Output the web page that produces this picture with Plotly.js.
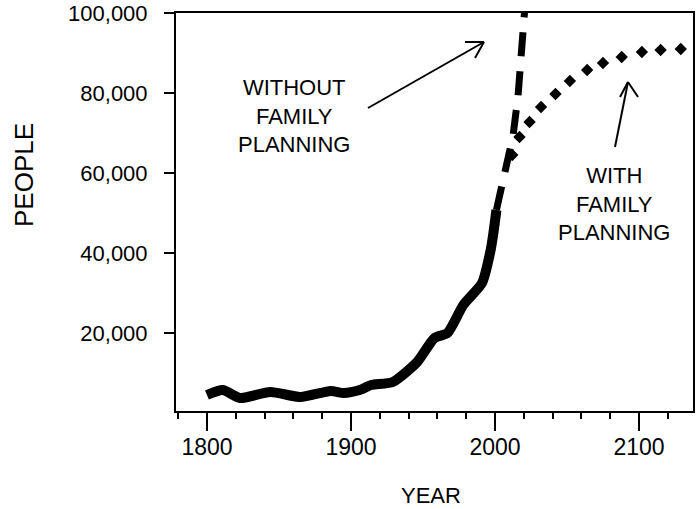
<!DOCTYPE html>
<html><head><meta charset="utf-8">
<script src="https://cdn.plot.ly/plotly-3.0.1.min.js"></script>
<style>html,body{margin:0;padding:0;background:#fff}#chart{width:699px;height:509px}</style>
</head><body><div id="chart"></div>
<script>
// Historical population (solid)
const pastYears  = [1800,1811,1823,1844,1865,1886,1895,1906,1914,1929,1946,1958,1967,1978,1991,1997,1999,2001];
const pastPeople = [4500,5750,3750,5250,4000,5500,5000,5750,7000,7750,12750,18750,20000,27000,32500,40750,45250,50750];
// Projection without family planning (dashed)
const withoutYears  = [2001,2006,2012.5,2016,2018,2020,2021];
const withoutPeople = [50750,59500,69250,79250,89500,99500,102500];
// Projection with family planning (diamonds)
const withYears  = [2012,2017,2024,2032,2042,2052,2064,2075,2088,2102,2115,2129];
const withPeople = [64500,69000,72750,76500,79750,83000,85750,87500,89000,90250,90750,91000];
// Axis ticks
const yTicks = [20000,40000,60000,80000,100000];
const xTicks = [1800,1900,2000,2100];
const labelWithout = "WITHOUT<br>FAMILY<br>PLANNING";
const labelWith = "WITH<br>FAMILY<br>PLANNING";

const FONT = '"Liberation Sans", Arial, Helvetica, sans-serif';
const L = 176, R = 693, T = 13, B = 411;
const P = (px, py) => [(px - L) / (R - L), (B - py) / (B - T)];
function seg(a, b) {
  const p = P(a[0], a[1]), q = P(b[0], b[1]);
  return {type:'line', xref:'paper', yref:'paper', x0:p[0], y0:p[1], x1:q[0], y1:q[1],
          line:{color:'#000', width:2}};
}
const shapes = [
  seg([368,108],[484,42]), seg([484,42],[465,42]), seg([484,42],[475,58]),
  seg([615,147],[628,82]), seg([628,82],[620,97]), seg([628,82],[638,97])
];
function ann(text, px, py, size, angle) {
  const p = P(px, py);
  return {text:text, xref:'paper', yref:'paper', x:p[0], y:p[1], xanchor:'center', yanchor:'middle',
          showarrow:false, align:'center', textangle:angle||0, font:{family:FONT, size:size, color:'#000'}};
}

const traces = [
  {x:pastYears, y:pastPeople, mode:'lines', line:{color:'#000', width:10, shape:'spline', smoothing:0.6}, hoverinfo:'skip'},
  {x:withoutYears, y:withoutPeople, mode:'lines', line:{color:'#000', width:7, dash:'24px,15px'}, hoverinfo:'skip'},
  {x:withYears, y:withPeople, mode:'markers', marker:{symbol:'diamond', size:9.5, color:'#000'}, hoverinfo:'skip'}
];

const layout = {
  width:699, height:509,
  margin:{l:L, r:699-R, t:T, b:509-B},
  paper_bgcolor:'#fff', plot_bgcolor:'#fff',
  showlegend:false,
  font:{family:FONT, color:'#000'},
  xaxis:{
    range:[1778.5, 2137.5], tickvals:xTicks, ticktext:xTicks.map(String),
    ticks:'outside', ticklen:18, tickwidth:2, tickcolor:'#000',
    minor:{dtick:20, tick0:1800, ticks:'outside', ticklen:6, tickwidth:2, tickcolor:'#000'},
    showgrid:false, zeroline:false, showline:true, mirror:true, linewidth:2, linecolor:'#000',
    tickfont:{family:FONT, size:23, color:'#000'}, ticklabelstandoff:-4
  },
  yaxis:{
    range:[500, 100000], tickvals:yTicks, tickformat:',d',
    ticks:'outside', ticklen:10, tickwidth:2, tickcolor:'#000',
    showgrid:false, zeroline:false, showline:true, mirror:true, linewidth:2, linecolor:'#000',
    tickfont:{family:FONT, size:22, color:'#000'}, ticklabelstandoff:12
  },
  shapes:shapes,
  annotations:[
    ann(labelWithout, 294, 116, 22),
    ann(labelWith, 614, 204, 22),
    ann('PEOPLE', 24, 175, 26, -90),
    ann('YEAR', 431, 495, 22)
  ]
};
Plotly.newPlot('chart', traces, layout, {staticPlot:true, displayModeBar:false});
</script></body></html>
